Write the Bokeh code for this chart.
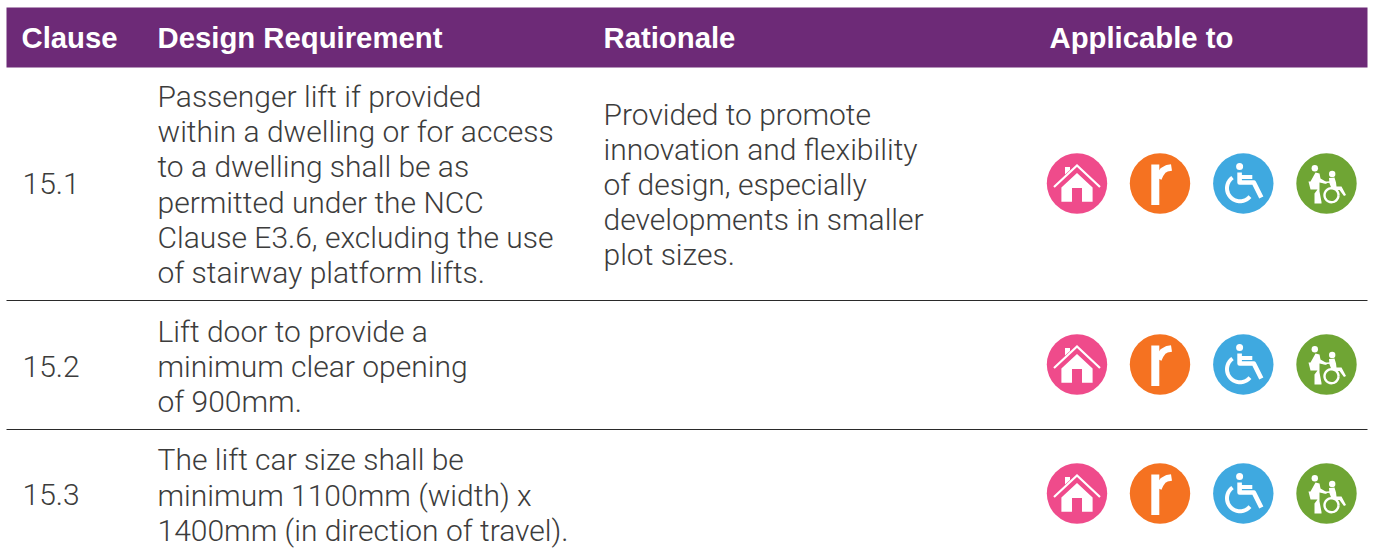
import numpy as np
from bokeh.plotting import figure
from bokeh.core.properties import value
from bokeh.embed import file_html
from bokeh.resources import INLINE

headers = ["Clause", "Design Requirement", "Rationale", "Applicable to"]
clauses = ["15.1", "15.2", "15.3"]
requirements = [
    ["Passenger lift if provided", "within a dwelling or for access", "to a dwelling shall be as",
     "permitted under the NCC", "Clause E3.6, excluding the use", "of stairway platform lifts."],
    ["Lift door to provide a", "minimum clear opening", "of 900mm."],
    ["The lift car size shall be", "minimum 1100mm (width) x", "1400mm (in direction of travel)."],
]
rationale = ["Provided to promote", "innovation and flexibility", "of design, especially",
             "developments in smaller", "plot sizes."]
icon_colors = ["#ef4b8b", "#f57221", "#3fa9e0", "#6fa534"]

W, H = 1373, 553
p = figure(width=W, height=H, x_range=(1, W + 1), y_range=(H + 1, 1),
           output_backend="svg", toolbar_location=None, min_border=0,
           outline_line_color=None, background_fill_color="white")
p.xaxis.visible = False
p.yaxis.visible = False
p.grid.visible = False

FONT = value("Roboto Light")
HEAD = value("Liberation Sans")
TXT = "#3c3c3c"
SIZE = "30px"
LINE = 35.2
col_x = [22, 158, 604, 1050]
icon_mid = [184, 365, 494]
clause_mid = [184, 366.5, 495]
rules = [301, 430]

p.quad(left=7, right=1368, top=8, bottom=68, fill_color="#6d2a77", line_color=None)
p.text(x=col_x, y=[38] * 4, text=headers, text_color="white", text_font=HEAD,
       text_font_style="bold", text_font_size="29.3px", text_baseline="middle")
p.segment(x0=[7, 7], x1=[1368, 1368], y0=rules, y1=rules, line_color="#2a2a2a", line_width=1)

p.text(x=[23] * 3, y=clause_mid, text=clauses, text_color=TXT, text_font=FONT,
       text_font_size=SIZE, text_baseline="middle")

def block(lines, x, mid):
    n = len(lines)
    ys = [mid + (i - (n - 1) / 2) * LINE for i in range(n)]
    p.text(x=[x] * n, y=ys, text=lines, text_color=TXT, text_font=FONT,
           text_font_size=SIZE, text_baseline="middle")

block(requirements[0], col_x[1], 185)
block(requirements[1], col_x[1], 367)
block(requirements[2], col_x[1], 495.5)
block(rationale, col_x[2], 185)

def arc_pts(cx, cy, r, a0, a1, n=40):
    t = np.radians(np.linspace(a0, a1, n))
    return cx + r * np.cos(t), cy + r * np.sin(t)

def house(cx, cy):
    xs = np.array([-15.6, -15.6, 0, 15.6, 15.6, 5, 5, -5, -5])
    ys = np.array([18.3, 4, -10.5, 4, 18.3, 18.3, 4.6, 4.6, 18.3])
    p.patch(cx + xs, cy + ys, fill_color="white", line_color=None)
    xs = np.array([-23, 0, 23])
    ys = np.array([3.5, -18, 3.5])
    p.line(cx + xs, cy + ys, line_color="white", line_width=2.2, line_join="miter")
    xs = np.array([-12, -12, -7, -7])
    ys = np.array([-9, -16.5, -16.5, -13.5])
    p.patch(cx + xs, cy + ys, fill_color="white", line_color=None)

def letter_r(cx, cy):
    p.quad(left=cx - 8.7, right=cx - 0.7, top=cy - 19, bottom=cy + 21.5, fill_color="white", line_color=None)
    xs = np.array([-1.5, 0.5, 3, 7, 11.5])
    ys = np.array([-5, -9.5, -13, -15.3, -16])
    p.line(cx + xs, cy + ys, line_color="white", line_width=6.5)

def wheelchair(cx, cy):
    p.circle(x=[cx - 3.7], y=[cy - 17], radius=3.5, fill_color="white", line_color=None)
    xs = np.array([-3.7, -3.7, 10.5, 18])
    ys = np.array([-11, -1, -1, 14])
    p.line(cx + xs, cy + ys, line_color="white", line_width=4.6, line_join="round")
    p.line(cx + np.array([-3.7, 9]), cy + np.array([-6.5, -6.5]), line_color="white", line_width=4)
    ax, ay = arc_pts(cx - 3.3, cy + 4.7, 13, 40, 235)
    p.line(ax, ay, line_color="white", line_width=4)

def helper(cx, cy):
    p.circle(x=[cx - 11.7, cx + 5.7], y=[cy - 15.3, cy - 9.6], radius=[3.2, 3.2], fill_color="white", line_color=None)
    xs = np.array([-16, -11, -7, -6, 0, 0, -7, -7, -5, -5, -12, -12, -9, -16, -18])
    ys = np.array([-2, -11, -10, -5, -1.5, 0.5, -1, 8, 18.5, 20, 20, 10, 6, 6, -2])
    p.patch(cx + xs, cy + ys, fill_color="white", line_color=None)
    xs = np.array([2.5, 8, 9.5, 10, 15, 19.5, 17.5, 13, 8, 5, 3])
    ys = np.array([-5.5, -6, -1, 3, 3, 11.5, 12.5, 6.5, 6.5, 5, 0])
    p.patch(cx + xs, cy + ys, fill_color="white", line_color=None)
    p.line(cx + np.array([-3, 4]), cy + np.array([-1, -1.5]), line_color="white", line_width=1.5)
    ax, ay = arc_pts(cx + 5, cy + 11.7, 7, 0, 360)
    p.line(ax, ay, line_color="white", line_width=2.4)

drawers = [house, letter_r, wheelchair, helper]
icon_x = [1077.5, 1160.5, 1243.8, 1327]
for m in icon_mid:
    for x, col, draw in zip(icon_x, icon_colors, drawers):
        p.circle(x=[x], y=[m], radius=30.2, fill_color=col, line_color=None)
        draw(x, m)

open("out.html", "w").write(file_html(p, INLINE))
